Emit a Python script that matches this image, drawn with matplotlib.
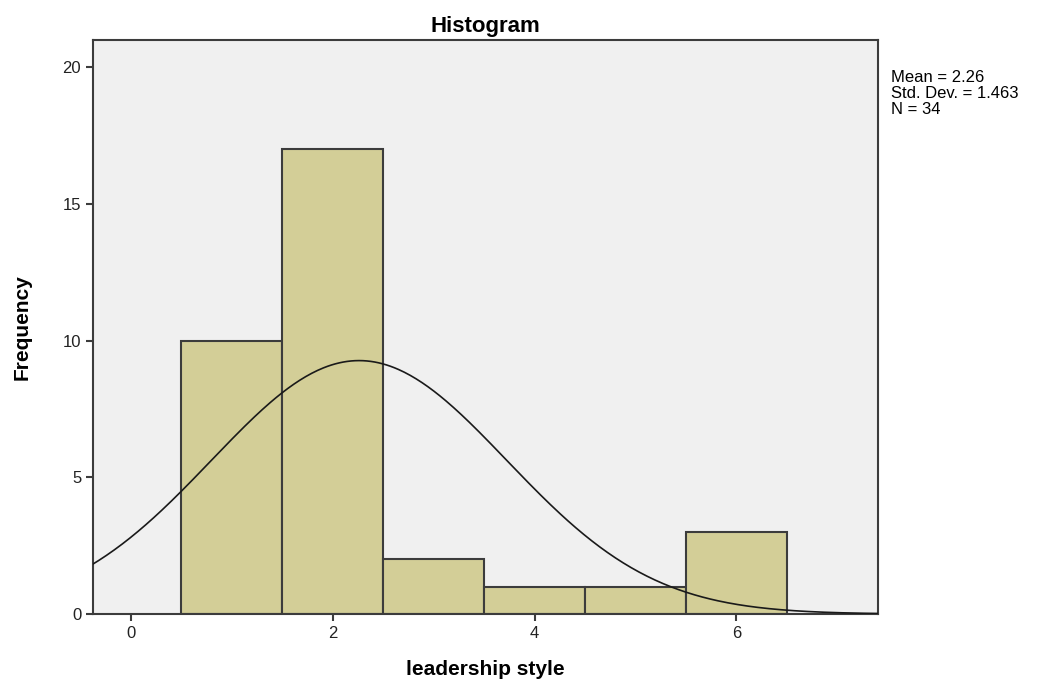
import matplotlib.pyplot as plt
import numpy as np

plt.rcParams['font.family'] = ['Liberation Sans', 'DejaVu Sans']

# Data
bin_centers = [1, 2, 3, 4, 5, 6]
counts = [10, 17, 2, 1, 1, 3]
mean = 2.26
std_dev = 1.463
n = 34
bin_width = 1.0

fig = plt.figure(figsize=(10.55, 6.82), dpi=100)
ax = fig.add_axes([0.0882, 0.0997, 0.7438, 0.8416])
ax.set_facecolor('#f0f0f0')

ax.bar(bin_centers, counts, width=bin_width, color='#d3ce97',
       edgecolor='#3c3c3c', linewidth=1.5, zorder=2)

# Normal curve scaled to the histogram
x = np.linspace(-0.4, 7.4, 400)
y = n * bin_width / (std_dev * np.sqrt(2 * np.pi)) * np.exp(-0.5 * ((x - mean) / std_dev) ** 2)
ax.plot(x, y, color='#1a1a1a', linewidth=1.2, zorder=3)

ax.set_xlim(-0.376, 7.40)
ax.set_ylim(0, 21.0)
ax.set_xticks([0, 2, 4, 6])
ax.set_yticks([0, 5, 10, 15, 20])
ax.tick_params(direction='out', length=5, width=1.5, color='#3c3c3c',
               labelsize=12, labelcolor='#222222')
for s in ax.spines.values():
    s.set_color('#3c3c3c')
    s.set_linewidth(1.5)

ax.set_title('Histogram', fontsize=16, fontweight='bold', pad=6)
ax.set_xlabel('leadership style', fontsize=15, fontweight='bold', labelpad=14)
ax.set_ylabel('Frequency', fontsize=15, fontweight='bold', labelpad=22)

fig.text(0.845, 0.898, f'Mean = {mean}\nStd. Dev. = {std_dev}\nN = {n}',
         fontsize=12, va='top', ha='left', linespacing=1.1)

fig.savefig('out.png', dpi=100)
